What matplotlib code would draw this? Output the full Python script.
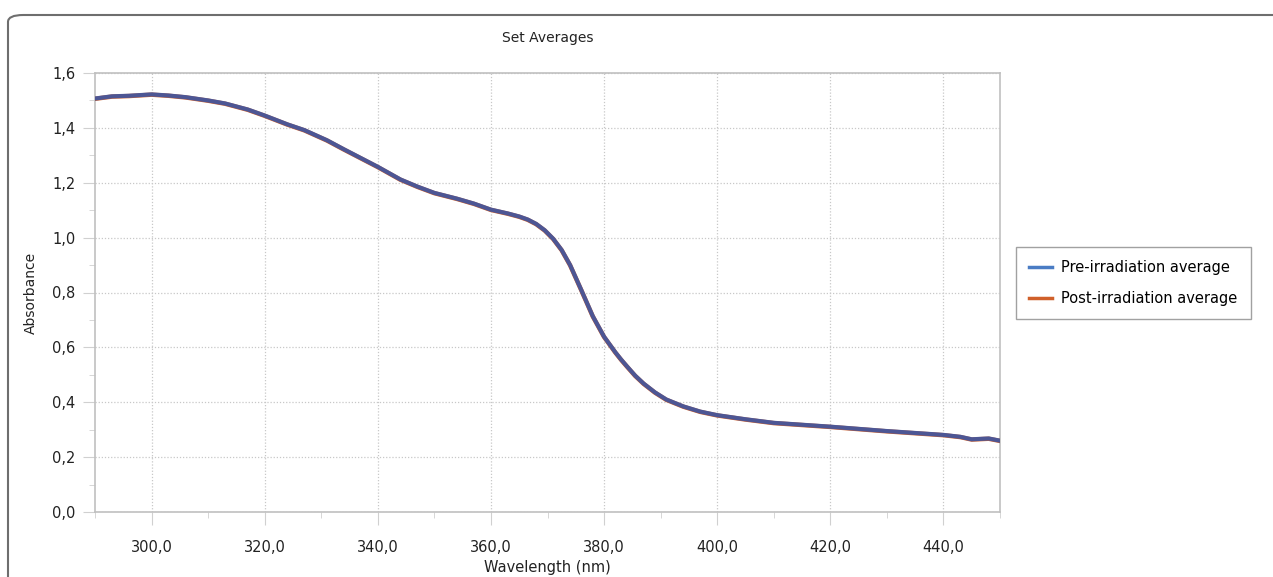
import matplotlib.pyplot as plt
from matplotlib.patches import FancyBboxPatch
from matplotlib.ticker import FuncFormatter, MultipleLocator

# values
wavelength = [290, 293, 296, 300, 303, 306, 310, 313, 317, 320, 324, 327, 331, 334,
              337, 340, 344, 347, 350, 354, 357, 360, 363, 365, 366.5, 368, 369.5,
              371, 372.5, 374, 376, 378, 380, 382, 383, 384, 385.5, 387, 389, 391, 394, 397,
              400, 405, 410, 415, 420, 425, 430, 435, 440, 443, 445, 448, 450]
pre_avg = [1.507, 1.515, 1.517, 1.522, 1.518, 1.512, 1.500, 1.489, 1.467, 1.445, 1.413,
           1.392, 1.355, 1.322, 1.290, 1.258, 1.212, 1.186, 1.163, 1.142, 1.124, 1.102,
           1.088, 1.077, 1.066, 1.050, 1.027, 0.996, 0.955, 0.900, 0.808, 0.714, 0.639, 0.582,
           0.556, 0.532, 0.497, 0.468, 0.436, 0.410, 0.385, 0.366, 0.353, 0.338, 0.325,
           0.318, 0.311, 0.303, 0.295, 0.288, 0.281, 0.274, 0.265, 0.268, 0.260]
post_avg = [1.506, 1.514, 1.516, 1.521, 1.517, 1.511, 1.499, 1.488, 1.466, 1.444, 1.412,
            1.391, 1.354, 1.321, 1.289, 1.257, 1.211, 1.185, 1.162, 1.141, 1.123, 1.101,
            1.087, 1.076, 1.065, 1.049, 1.026, 0.995, 0.954, 0.899, 0.807, 0.713, 0.638, 0.581,
            0.555, 0.531, 0.496, 0.467, 0.435, 0.409, 0.384, 0.365, 0.352, 0.337, 0.324,
            0.317, 0.310, 0.302, 0.294, 0.287, 0.280, 0.273, 0.264, 0.267, 0.259]

plt.rcParams['font.family'] = ['DejaVu Sans']
fig = plt.figure(figsize=(12.73, 5.77), dpi=100)

# rounded outer frame
frame = FancyBboxPatch((8 / 1273, -0.05), 1.1, 1.05 - 15 / 577,
                       boxstyle="round,pad=0,rounding_size=0.012",
                       transform=fig.transFigure, facecolor='white',
                       edgecolor='#6e6e6e', linewidth=1.5, zorder=-5)
fig.patches.append(frame)

ax = fig.add_axes([95 / 1273, 1 - 512 / 577, 905 / 1273, 439 / 577])
ax.set_zorder(2)
ax.set_facecolor('white')

ax.plot(wavelength, post_avg, color='#D0602A', linewidth=3.2, zorder=3)
ax.plot(wavelength, pre_avg, color='#3F55A0', linewidth=3.0, alpha=0.9, zorder=4)
# legend handles
h1, = ax.plot([], [], color='#4A7CC4', linewidth=2.5, label='Pre-irradiation average')
h2, = ax.plot([], [], color='#D0602A', linewidth=2.5, label='Post-irradiation average')

ax.set_xlim(290, 450)
ax.set_ylim(0, 1.6)
ax.xaxis.set_major_locator(MultipleLocator(20))
ax.xaxis.set_minor_locator(MultipleLocator(10))
ax.yaxis.set_major_locator(MultipleLocator(0.2))
ax.yaxis.set_minor_locator(MultipleLocator(0.1))
comma = FuncFormatter(lambda v, p: f"{v:.1f}".replace('.', ','))
ax.xaxis.set_major_formatter(comma)
ax.yaxis.set_major_formatter(comma)

ax.grid(True, which='major', color='#c8c8c8', linestyle=(0, (1, 1.5)), linewidth=0.9)
ax.tick_params(which='major', length=9, color='#d0d0d0', labelsize=10.5, labelcolor='#222222', pad=5)
ax.tick_params(axis='x', which='major', pad=11)
ax.tick_params(which='minor', length=4, color='#d0d0d0')
for s in ax.spines.values():
    s.set_color('#c0c0c0')
    s.set_linewidth(1.2)

ax.set_title('Set Averages', fontsize=10, color='#222222', pad=22)
ax.set_xlabel('Wavelength (nm)', fontsize=10.5, color='#222222', labelpad=4)
ax.set_ylabel('Absorbance', fontsize=10, color='#222222', labelpad=10)

leg = fig.legend(handles=[h1, h2], loc='upper left',
                 bbox_to_anchor=(1016 / 1273, 1 - 247 / 577),
                 frameon=True, fancybox=False, fontsize=10.5, handlelength=1.6,
                 labelspacing=1.1, borderpad=0.9, handletextpad=0.6, borderaxespad=0)
leg.get_frame().set_edgecolor('#8a8a8a')
leg.get_frame().set_linewidth(1.0)

fig.savefig('out.png', dpi=100)
